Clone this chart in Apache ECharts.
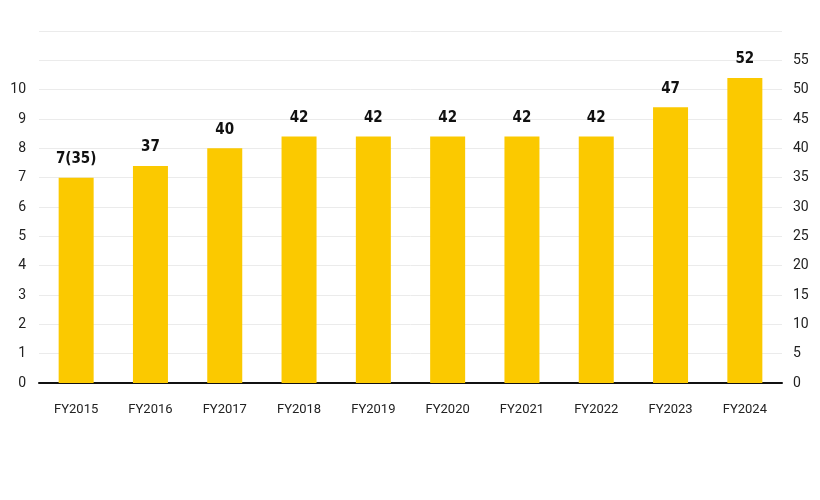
<!DOCTYPE html>
<html>
<head>
<meta charset="utf-8">
<script src="https://cdn.jsdelivr.net/npm/echarts@6/dist/echarts.min.js"></script>
<style>html,body{margin:0;padding:0;background:#fff}#c{width:820px;height:500px}</style>
</head>
<body>
<div id="c"></div>
<script>
var categories = ['FY2015','FY2016','FY2017','FY2018','FY2019','FY2020','FY2021','FY2022','FY2023','FY2024'];
var values = [35, 37, 40, 42, 42, 42, 42, 42, 47, 52];
var barLabels = ['7(35)', '37', '40', '42', '42', '42', '42', '42', '47', '52'];
var leftTicks = [0,1,2,3,4,5,6,7,8,9,10];
var rightTicks = [0,5,10,15,20,25,30,35,40,45,50,55];

var chart = echarts.init(document.getElementById('c'), null, {renderer:'canvas'});
var font = 'Roboto, "DejaVu Sans", sans-serif';
chart.setOption({
  animation: false,
  grid: {left: 39, right: 38, top: 31, bottom: 117},
  xAxis: {
    type: 'category',
    data: categories,
    axisLine: {lineStyle: {color: '#111', width: 2}},
    axisTick: {show: false},
    axisLabel: {margin: 20, fontSize: 13, color: '#222', fontFamily: font}
  },
  yAxis: [{
    type: 'value', min: 0, max: 12, interval: 1,
    axisLine: {show: false}, axisTick: {show: false},
    splitLine: {lineStyle: {color: '#ebebeb', width: 1}},
    axisLabel: {
      margin: 13, fontSize: 14, color: '#222', fontFamily: font,
      formatter: function (v) { return leftTicks.indexOf(v) >= 0 ? String(v) : ''; }
    }
  }, {
    type: 'value', min: 0, max: 60, interval: 5, position: 'right',
    axisLine: {show: false}, axisTick: {show: false},
    splitLine: {show: false},
    axisLabel: {
      margin: 11, fontSize: 14, color: '#222', fontFamily: font,
      formatter: function (v) { return rightTicks.indexOf(v) >= 0 ? String(v) : ''; }
    }
  }],
  series: [{
    type: 'bar',
    yAxisIndex: 1,
    data: values,
    barWidth: 35,
    itemStyle: {color: '#FBC900'},
    label: {
      show: true, position: 'top', distance: 11,
      fontSize: 15, fontWeight: 'bold', color: '#111',
      fontFamily: '"DejaVu Sans Condensed", "Liberation Sans Narrow", sans-serif',
      formatter: function (p) { return barLabels[p.dataIndex]; }
    }
  }]
});
</script>
</body>
</html>
